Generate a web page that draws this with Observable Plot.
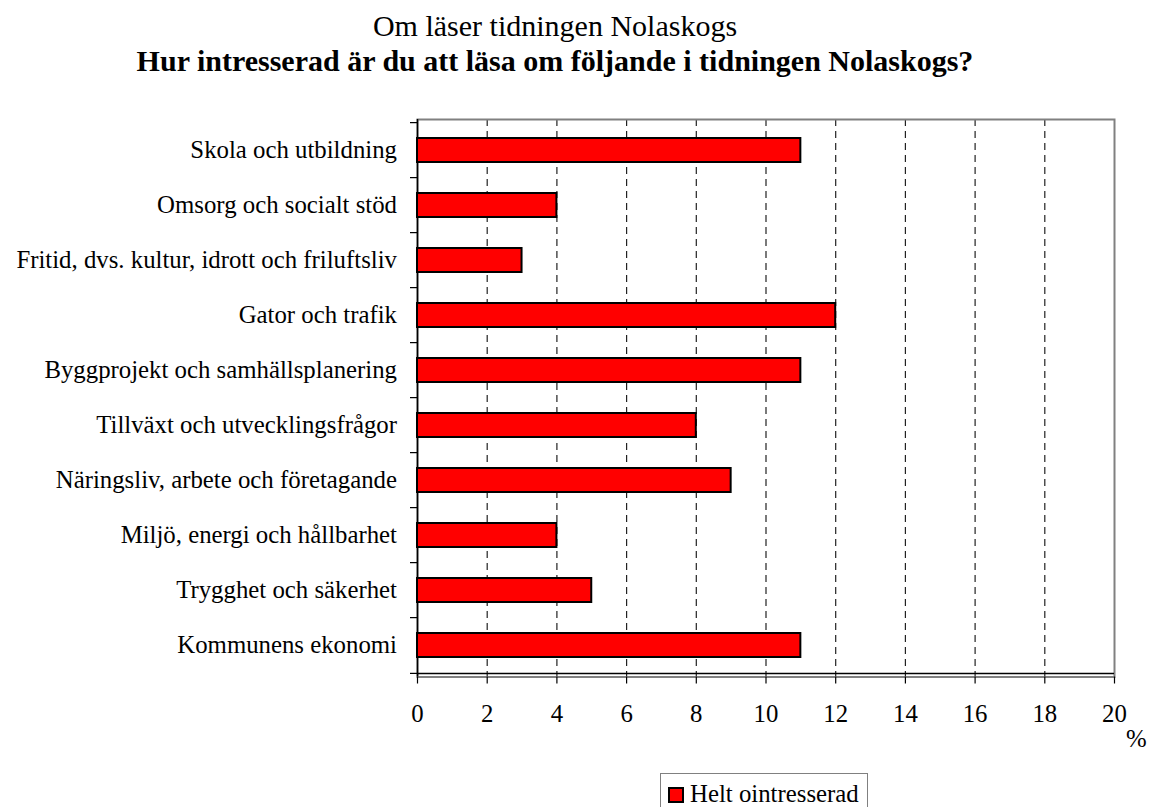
<!DOCTYPE html>
<html>
<head>
<meta charset="utf-8">
<script src="https://cdn.jsdelivr.net/npm/d3@7"></script>
<script src="https://cdn.jsdelivr.net/npm/@observablehq/plot@0.6"></script>
<style>
  html, body { margin: 0; padding: 0; background: #fff; }
  body { font-family: "Liberation Serif", "Times New Roman", serif; color: #000; }
  #wrap { position: relative; width: 1149px; height: 807px; overflow: hidden; }
  .title { position: absolute; left: 0; width: 1110px; text-align: center; font-size: 30px; line-height: 30px; white-space: nowrap; }
  #t1 { top: 11px; font-weight: normal; }
  #t2 { top: 46px; font-weight: bold; }
  #chart { position: absolute; left: 0; top: 100px; }
  #unit { position: absolute; left: 1126px; top: 727px; font-size: 24.8px; line-height: 24.8px; }
  #legend { position: absolute; left: 660px; top: 773px; width: 208px; height: 40px; border: 1px solid #808080; box-sizing: border-box; }
  #legend .sw { position: absolute; left: 7px; top: 13px; width: 16px; height: 16px; background: #ff0000; border: 2px solid #000; box-sizing: border-box; }
  #legend .lab { position: absolute; left: 29px; top: 8px; font-size: 24.8px; line-height: 24.8px; white-space: nowrap; }
</style>
</head>
<body>
<div id="wrap">
  <div class="title" id="t1"></div>
  <div class="title" id="t2"></div>
  <div id="chart"></div>
  <div id="unit"></div>
  <div id="legend"><div class="sw"></div><div class="lab"></div></div>
</div>
<script>
const titleText = "Om läser tidningen Nolaskogs";
const subtitleText = "Hur intresserad är du att läsa om följande i tidningen Nolaskogs?";
const seriesName = "Helt ointresserad";
const unitLabel = "%";

const categories = [
  "Skola och utbildning",
  "Omsorg och socialt stöd",
  "Fritid, dvs. kultur, idrott och friluftsliv",
  "Gator och trafik",
  "Byggprojekt och samhällsplanering",
  "Tillväxt och utvecklingsfrågor",
  "Näringsliv, arbete och företagande",
  "Miljö, energi och hållbarhet",
  "Trygghet och säkerhet",
  "Kommunens ekonomi"
];
const values = [11, 4, 3, 12, 11, 8, 9, 4, 5, 11];
const xTicks = [0, 2, 4, 6, 8, 10, 12, 14, 16, 18, 20];
const xDomain = [0, 20];

document.getElementById("t1").textContent = titleText;
document.getElementById("t2").textContent = subtitleText;
document.getElementById("unit").textContent = unitLabel;
document.querySelector("#legend .lab").textContent = seriesName;

const data = categories.map((c, i) => ({category: c, value: values[i]}));

const W = 1149, H = 680, mT = 19, mB = 103.5, mL = 417, mR = 35;
const step = (H - mT - mB) / categories.length;
const lastCat = categories[categories.length - 1];
const font = '"Liberation Serif", "Times New Roman", serif';

const chart = Plot.plot({
  width: W,
  height: H,
  marginTop: mT,
  marginBottom: mB,
  marginLeft: mL,
  marginRight: mR,
  style: {fontFamily: font, fontSize: "24.8px", color: "#000", background: "transparent", overflow: "visible"},
  x: {domain: xDomain, label: null},
  y: {domain: categories, paddingInner: 0.57, paddingOuter: 0.285, label: null},
  marks: [
    Plot.ruleX(xTicks.filter(t => t > xDomain[0] && t < xDomain[1]), {stroke: "#222", strokeWidth: 1.2, strokeDasharray: "7,5"}),
    Plot.frame({stroke: "#808080", strokeWidth: 2}),
    Plot.ruleX([0], {stroke: "#000", strokeWidth: 1.5}),
    Plot.ruleY([lastCat], {x1: xDomain[0], x2: xDomain[1], dy: step / 2, stroke: "#000", strokeWidth: 1.5}),
    Plot.ruleY(categories, {x1: 0, x2: 0, insetLeft: -7, dy: -step / 2, stroke: "#000", strokeWidth: 1.2}),
    Plot.ruleY([lastCat], {x1: 0, x2: 0, insetLeft: -7, dy: step / 2, stroke: "#000", strokeWidth: 1.2}),
    Plot.barX(data, {x: "value", y: "category", fill: "#ff0000", stroke: "#000", strokeWidth: 2}),
    Plot.axisX(xTicks, {anchor: "bottom", tickSize: 7, tickPadding: 20, fontSize: 24.8, fontFamily: font, stroke: "#000", strokeWidth: 1.2, label: null}),
    Plot.axisY({anchor: "left", tickSize: 0, tickPadding: 20.5, fontSize: 24.8, fontFamily: font, label: null})
  ]
});
document.getElementById("chart").appendChild(chart);
</script>
</body>
</html>
